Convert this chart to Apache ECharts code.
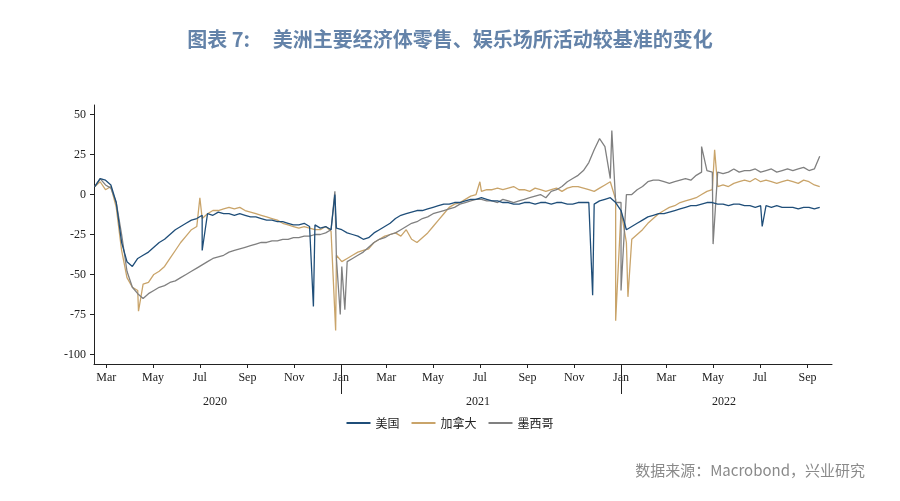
<!DOCTYPE html>
<html>
<head>
<meta charset="utf-8">
<script src="https://cdn.jsdelivr.net/npm/echarts@6/dist/echarts.min.js"></script>
<style>html,body{margin:0;padding:0;background:#fff}#main{width:900px;height:501px}</style>
</head>
<body>
<div id="main"></div>
<script>
// weekly readings from 2020-02-15
var startDate = '2020-02-15';
var usVals = [5,10,9,6,-5,-30,-42,-45,-40,-38,
  -36,-33,-30,-28,-25,-22,-20,-18,-16,-15,
  -13,-12,-13,-11,-12,-12,-13,-12,-13,-14,
  -14,-15,-16,-16,-17,-17,-18,-19,-19,-18,
  -20,-19,-21,-20,-22,-21,-22,-24,-25,-26,
  -28,-27,-24,-22,-20,-18,-15,-13,-12,-11,
  -10,-10,-9,-8,-7,-6,-6,-5,-5,-4,
  -3,-3,-2,-3,-4,-4,-5,-5,-6,-6,
  -5,-5,-6,-5,-5,-6,-5,-5,-6,-6,
  -5,-5,-5,-6,-4,-3,-2,-5,-10,-22,
  -20,-18,-16,-14,-13,-12,-12,-11,-10,-9,
  -8,-7,-7,-6,-5,-5,-6,-6,-7,-6,
  -6,-7,-7,-8,-7,-7,-8,-7,-8,-8,
  -8,-9,-8,-8,-9,-8];
var caVals = [5,8,3,5,-8,-35,-52,-58,-60,-56,
  -55,-50,-48,-45,-40,-35,-30,-26,-22,-20,
  -15,-12,-10,-10,-9,-8,-9,-8,-10,-11,
  -12,-13,-14,-15,-16,-18,-19,-20,-21,-20,
  -21,-22,-22,-20,-23,-38,-42,-40,-38,-36,
  -35,-34,-30,-28,-26,-25,-24,-26,-22,-28,
  -30,-27,-24,-20,-16,-12,-8,-6,-5,-3,
  -1,0,2,3,3,4,3,4,5,3,
  3,2,4,3,2,3,4,2,4,5,
  5,4,3,2,4,6,8,-3,-10,-30,
  -28,-25,-22,-18,-15,-12,-10,-8,-7,-5,
  -4,-3,-2,0,2,3,5,6,5,7,
  8,9,8,10,8,9,8,7,8,9,
  8,7,9,8,6,5];
var mxVals = [5,10,6,4,-5,-25,-48,-58,-62,-65,
  -62,-60,-58,-57,-55,-54,-52,-50,-48,-46,
  -44,-42,-40,-39,-38,-36,-35,-34,-33,-32,
  -31,-30,-30,-29,-29,-28,-28,-27,-27,-26,
  -26,-25,-25,-24,-22,-40,-45,-42,-40,-38,
  -36,-33,-30,-28,-27,-25,-24,-22,-20,-18,
  -17,-15,-14,-12,-11,-10,-9,-8,-6,-5,
  -4,-3,-3,-4,-4,-5,-3,-4,-5,-4,
  -3,-2,-1,0,-2,2,3,5,8,10,
  12,15,20,28,35,30,10,-5,-5,0,
  0,3,5,8,9,9,8,7,8,9,
  10,9,12,14,15,14,14,13,14,16,
  14,15,15,16,14,15,16,14,15,16,
  15,16,17,15,16,24];
// single-day spikes
var usSpikes = [['2020-07-04',-35],['2020-11-26',-70],['2020-12-24',0],['2021-11-25',-63],['2022-07-04',-20]];
var caSpikes = [['2020-04-12',-73],['2020-07-01',-2],['2020-12-25',-85],['2021-07-01',8],['2021-12-25',-79],['2022-01-10',-64],['2022-05-03',28]];
var mxSpikes = [['2020-12-24',2],['2020-12-31',-75],['2021-01-06',-72],['2021-12-20',40],['2022-01-01',-60],['2022-04-16',30],['2022-05-01',-31]];

var monthTicks = ['2020-03-01','2020-05-01','2020-07-01','2020-09-01','2020-11-01','2021-01-01','2021-03-01','2021-05-01','2021-07-01','2021-09-01','2021-11-01','2022-01-01','2022-03-01','2022-05-01','2022-07-01','2022-09-01'];
var yearTicks = ['2021-01-01','2022-01-01'];
var monthNames = ['Jan','Feb','Mar','Apr','May','Jun','Jul','Aug','Sep','Oct','Nov','Dec'];
var yTicks = [-100,-75,-50,-25,0,25,50];

function ts(d) { return new Date(d + 'T00:00:00Z').getTime(); }
function build(vals, spikes) {
  var t0 = ts(startDate);
  var pts = vals.map(function (v, i) { return [t0 + i * 7 * 86400000, v]; });
  spikes.forEach(function (s) { pts.push([ts(s[0]), s[1]]); });
  pts.sort(function (a, b) { return a[0] - b[0]; });
  return pts;
}

var xMin = ts('2020-02-14'), xMax = ts('2022-10-03');
var myChart = echarts.init(document.getElementById('main'), null, { renderer: 'canvas' });
var axisCommon = { type: 'value', min: xMin, max: xMax, splitLine: { show: false } };
var option = {
  animation: false,
  title: [{
    text: '图表 7:     美洲主要经济体零售、娱乐场所活动较基准的变化',
    left: 'center', top: 24,
    textStyle: { color: '#6483a9', fontSize: 20, fontWeight: 'bold', fontFamily: 'Noto Sans CJK SC' }
  }, {
    text: '数据来源：Macrobond，兴业研究',
    right: 30, top: 458,
    textStyle: { color: '#8a8a8a', fontSize: 15, fontWeight: 'normal', fontFamily: 'Noto Sans CJK SC' }
  }],
  legend: {
    top: 412, left: 'center', itemWidth: 24, itemHeight: 2, itemGap: 12,
    icon: 'rect',
    textStyle: { fontSize: 12, color: '#222', fontFamily: 'Noto Sans CJK SC' },
    data: ['美国', '加拿大', '墨西哥']
  },
  grid: { left: 94, right: 68, top: 105, bottom: 137 },
  xAxis: [Object.assign({}, axisCommon, {
    axisLine: { onZero: false, lineStyle: { color: '#222' } },
    axisTick: { length: 4, lineStyle: { color: '#222' }, customValues: monthTicks.map(ts) },
    axisLabel: {
      customValues: monthTicks.map(ts), color: '#222', fontSize: 12, fontFamily: 'Liberation Serif', margin: 8,
      formatter: function (v) { return monthNames[new Date(v).getUTCMonth()]; }
    }
  }), Object.assign({}, axisCommon, {
    position: 'bottom',
    axisLine: { show: false, onZero: false },
    axisTick: { length: 30, lineStyle: { color: '#222' }, customValues: yearTicks.map(ts) },
    axisLabel: { show: false }
  })],
  yAxis: {
    type: 'value', min: -106, max: 56,
    splitLine: { show: false },
    axisLine: { show: true, lineStyle: { color: '#222' } },
    axisTick: { show: true, length: 4, lineStyle: { color: '#222' }, customValues: yTicks },
    axisLabel: { customValues: yTicks, color: '#222', fontSize: 12, fontFamily: 'Liberation Serif' }
  },
  graphic: [
    { type: 'text', left: 203, top: 396, style: { text: '2020', fontSize: 12, fontFamily: 'Liberation Serif', fill: '#222' } },
    { type: 'text', left: 466, top: 396, style: { text: '2021', fontSize: 12, fontFamily: 'Liberation Serif', fill: '#222' } },
    { type: 'text', left: 712, top: 396, style: { text: '2022', fontSize: 12, fontFamily: 'Liberation Serif', fill: '#222' } }
  ],
  series: [
    { name: '加拿大', type: 'line', showSymbol: false, data: build(caVals, caSpikes), lineStyle: { width: 1.3 }, z: 2 },
    { name: '墨西哥', type: 'line', showSymbol: false, data: build(mxVals, mxSpikes), lineStyle: { width: 1.3 }, z: 3 },
    { name: '美国', type: 'line', showSymbol: false, data: build(usVals, usSpikes), lineStyle: { width: 1.3 }, z: 4 }
  ],
  color: ['#c9a46a', '#808080', '#1f4e79']
};
myChart.setOption(option);
</script>
</body>
</html>
